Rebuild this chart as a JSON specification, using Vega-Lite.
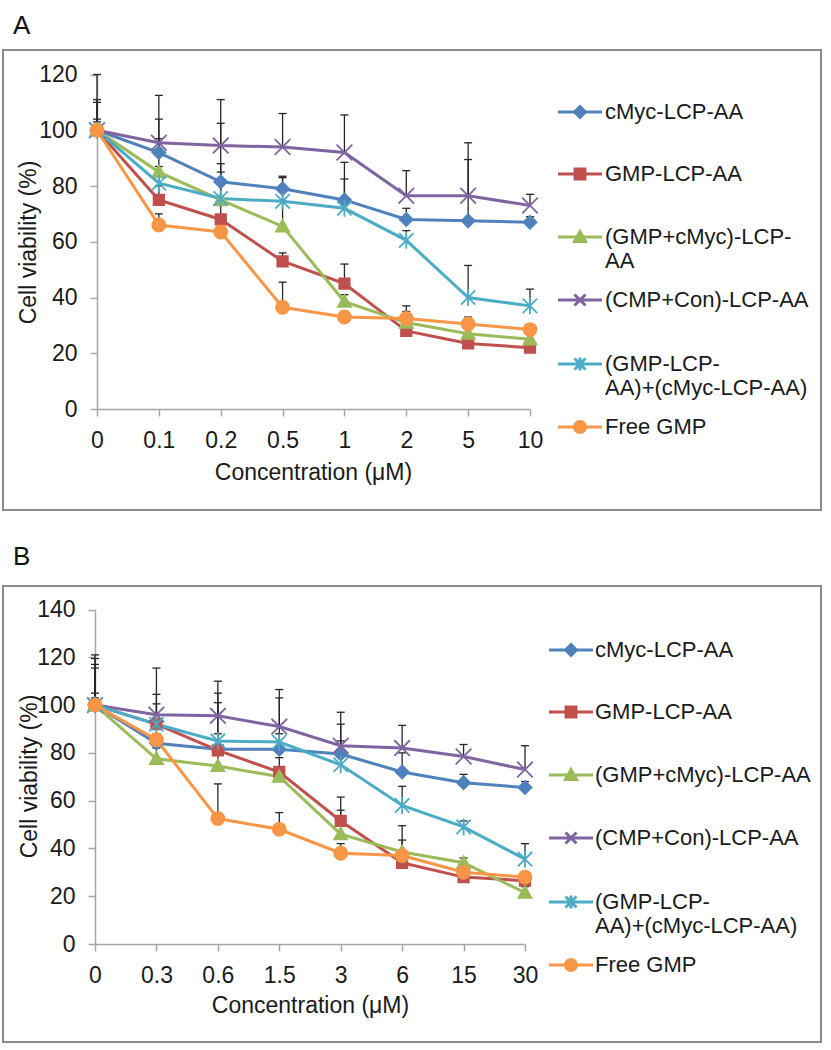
{
  "$schema": "https://vega.github.io/schema/vega-lite/v6.json",
  "padding": {"left": 2, "top": 12, "right": 5, "bottom": 5},
  "spacing": 32,
  "config": {
    "font": "Liberation Sans",
    "view": {"stroke": "#8a8a8a", "strokeWidth": 2},
    "title": {"anchor": "start", "fontSize": 26, "fontWeight": "normal", "dx": 10, "baseline": "alphabetic", "color": "#111111", "font": "Liberation Sans"},
    "axis": {"grid": false, "domainColor": "#a6a6a6", "domainWidth": 1.5, "tickColor": "#a6a6a6", "tickWidth": 1.5, "tickSize": 7, "labelFontSize": 23, "labelPadding": 13, "labelColor": "#1a1a1a", "titleFontSize": 23, "titleFontWeight": "normal", "titleColor": "#1a1a1a", "labelFont": "Liberation Sans", "titleFont": "Liberation Sans"}
  },
  "datasets": {
    "panelA": [
      {"series": "cMyc-LCP-AA", "conc": "0", "viability": 100, "upper": 110},
      {"series": "cMyc-LCP-AA", "conc": "0.1", "viability": 92, "upper": 104},
      {"series": "cMyc-LCP-AA", "conc": "0.2", "viability": 81.5, "upper": 102.5},
      {"series": "cMyc-LCP-AA", "conc": "0.5", "viability": 79, "upper": 83},
      {"series": "cMyc-LCP-AA", "conc": "1", "viability": 75, "upper": 88.5},
      {"series": "cMyc-LCP-AA", "conc": "2", "viability": 68, "upper": 72},
      {"series": "cMyc-LCP-AA", "conc": "5", "viability": 67.5, "upper": 89.5},
      {"series": "cMyc-LCP-AA", "conc": "10", "viability": 67, "upper": 69},
      {"series": "GMP-LCP-AA", "conc": "0", "viability": 100, "upper": 103},
      {"series": "GMP-LCP-AA", "conc": "0.1", "viability": 75, "upper": 80},
      {"series": "GMP-LCP-AA", "conc": "0.2", "viability": 68, "upper": 73},
      {"series": "GMP-LCP-AA", "conc": "0.5", "viability": 53, "upper": 56},
      {"series": "GMP-LCP-AA", "conc": "1", "viability": 45, "upper": 52},
      {"series": "GMP-LCP-AA", "conc": "2", "viability": 28, "upper": 30},
      {"series": "GMP-LCP-AA", "conc": "5", "viability": 23.5, "upper": 25},
      {"series": "GMP-LCP-AA", "conc": "10", "viability": 22, "upper": 23.5},
      {"series": "(GMP+cMyc)-LCP-AA", "conc": "0", "viability": 100, "upper": 104},
      {"series": "(GMP+cMyc)-LCP-AA", "conc": "0.1", "viability": 85, "upper": 97},
      {"series": "(GMP+cMyc)-LCP-AA", "conc": "0.2", "viability": 75, "upper": 88},
      {"series": "(GMP+cMyc)-LCP-AA", "conc": "0.5", "viability": 65.5, "upper": 83.5},
      {"series": "(GMP+cMyc)-LCP-AA", "conc": "1", "viability": 38.5, "upper": 41},
      {"series": "(GMP+cMyc)-LCP-AA", "conc": "2", "viability": 31, "upper": 35},
      {"series": "(GMP+cMyc)-LCP-AA", "conc": "5", "viability": 27, "upper": 29},
      {"series": "(GMP+cMyc)-LCP-AA", "conc": "10", "viability": 25, "upper": 26.5},
      {"series": "(CMP+Con)-LCP-AA", "conc": "0", "viability": 100, "upper": 120},
      {"series": "(CMP+Con)-LCP-AA", "conc": "0.1", "viability": 95.5, "upper": 112.5},
      {"series": "(CMP+Con)-LCP-AA", "conc": "0.2", "viability": 94.5, "upper": 111},
      {"series": "(CMP+Con)-LCP-AA", "conc": "0.5", "viability": 94, "upper": 106},
      {"series": "(CMP+Con)-LCP-AA", "conc": "1", "viability": 92, "upper": 105.5},
      {"series": "(CMP+Con)-LCP-AA", "conc": "2", "viability": 76.5, "upper": 85.5},
      {"series": "(CMP+Con)-LCP-AA", "conc": "5", "viability": 76.5, "upper": 95.5},
      {"series": "(CMP+Con)-LCP-AA", "conc": "10", "viability": 73, "upper": 77},
      {"series": "(GMP-LCP-AA)+(cMyc-LCP-AA)", "conc": "0", "viability": 100, "upper": 111},
      {"series": "(GMP-LCP-AA)+(cMyc-LCP-AA)", "conc": "0.1", "viability": 81, "upper": 87},
      {"series": "(GMP-LCP-AA)+(cMyc-LCP-AA)", "conc": "0.2", "viability": 75.5, "upper": 85},
      {"series": "(GMP-LCP-AA)+(cMyc-LCP-AA)", "conc": "0.5", "viability": 74.5, "upper": 78},
      {"series": "(GMP-LCP-AA)+(cMyc-LCP-AA)", "conc": "1", "viability": 72, "upper": 82.5},
      {"series": "(GMP-LCP-AA)+(cMyc-LCP-AA)", "conc": "2", "viability": 60.5, "upper": 64},
      {"series": "(GMP-LCP-AA)+(cMyc-LCP-AA)", "conc": "5", "viability": 40, "upper": 51.5},
      {"series": "(GMP-LCP-AA)+(cMyc-LCP-AA)", "conc": "10", "viability": 37, "upper": 43},
      {"series": "Free GMP", "conc": "0", "viability": 100, "upper": 102},
      {"series": "Free GMP", "conc": "0.1", "viability": 66, "upper": 70},
      {"series": "Free GMP", "conc": "0.2", "viability": 63.5, "upper": 67},
      {"series": "Free GMP", "conc": "0.5", "viability": 36.5, "upper": 45.5},
      {"series": "Free GMP", "conc": "1", "viability": 33, "upper": 35},
      {"series": "Free GMP", "conc": "2", "viability": 32.5, "upper": 37},
      {"series": "Free GMP", "conc": "5", "viability": 30.5, "upper": 33},
      {"series": "Free GMP", "conc": "10", "viability": 28.5, "upper": 30}
    ],
    "panelB": [
      {"series": "cMyc-LCP-AA", "conc": "0", "viability": 100, "upper": 121},
      {"series": "cMyc-LCP-AA", "conc": "0.3", "viability": 84, "upper": 92},
      {"series": "cMyc-LCP-AA", "conc": "0.6", "viability": 81.5, "upper": 88},
      {"series": "cMyc-LCP-AA", "conc": "1.5", "viability": 81.5, "upper": 88},
      {"series": "cMyc-LCP-AA", "conc": "3", "viability": 79.5, "upper": 92},
      {"series": "cMyc-LCP-AA", "conc": "6", "viability": 72, "upper": 80},
      {"series": "cMyc-LCP-AA", "conc": "15", "viability": 67.5, "upper": 71},
      {"series": "cMyc-LCP-AA", "conc": "30", "viability": 65.5, "upper": 68},
      {"series": "GMP-LCP-AA", "conc": "0", "viability": 100, "upper": 119.5},
      {"series": "GMP-LCP-AA", "conc": "0.3", "viability": 92, "upper": 104.5},
      {"series": "GMP-LCP-AA", "conc": "0.6", "viability": 81, "upper": 101},
      {"series": "GMP-LCP-AA", "conc": "1.5", "viability": 72, "upper": 78},
      {"series": "GMP-LCP-AA", "conc": "3", "viability": 51.5, "upper": 61.5},
      {"series": "GMP-LCP-AA", "conc": "6", "viability": 34, "upper": 37},
      {"series": "GMP-LCP-AA", "conc": "15", "viability": 28, "upper": 30},
      {"series": "GMP-LCP-AA", "conc": "30", "viability": 26.5, "upper": 29},
      {"series": "(GMP+cMyc)-LCP-AA", "conc": "0", "viability": 100, "upper": 117},
      {"series": "(GMP+cMyc)-LCP-AA", "conc": "0.3", "viability": 77.5, "upper": 82},
      {"series": "(GMP+cMyc)-LCP-AA", "conc": "0.6", "viability": 74.5, "upper": 79},
      {"series": "(GMP+cMyc)-LCP-AA", "conc": "1.5", "viability": 70, "upper": 74},
      {"series": "(GMP+cMyc)-LCP-AA", "conc": "3", "viability": 46, "upper": 56},
      {"series": "(GMP+cMyc)-LCP-AA", "conc": "6", "viability": 38.5, "upper": 49.5},
      {"series": "(GMP+cMyc)-LCP-AA", "conc": "15", "viability": 34, "upper": 36},
      {"series": "(GMP+cMyc)-LCP-AA", "conc": "30", "viability": 21.5, "upper": 24},
      {"series": "(CMP+Con)-LCP-AA", "conc": "0", "viability": 100, "upper": 115.5},
      {"series": "(CMP+Con)-LCP-AA", "conc": "0.3", "viability": 96, "upper": 115.5},
      {"series": "(CMP+Con)-LCP-AA", "conc": "0.6", "viability": 95.5, "upper": 110},
      {"series": "(CMP+Con)-LCP-AA", "conc": "1.5", "viability": 91, "upper": 106.5},
      {"series": "(CMP+Con)-LCP-AA", "conc": "3", "viability": 83, "upper": 97},
      {"series": "(CMP+Con)-LCP-AA", "conc": "6", "viability": 82, "upper": 91.5},
      {"series": "(CMP+Con)-LCP-AA", "conc": "15", "viability": 78.5, "upper": 83.5},
      {"series": "(CMP+Con)-LCP-AA", "conc": "30", "viability": 73, "upper": 83},
      {"series": "(GMP-LCP-AA)+(cMyc-LCP-AA)", "conc": "0", "viability": 100, "upper": 105},
      {"series": "(GMP-LCP-AA)+(cMyc-LCP-AA)", "conc": "0.3", "viability": 92, "upper": 100.5},
      {"series": "(GMP-LCP-AA)+(cMyc-LCP-AA)", "conc": "0.6", "viability": 85, "upper": 105},
      {"series": "(GMP-LCP-AA)+(cMyc-LCP-AA)", "conc": "1.5", "viability": 84.5, "upper": 103},
      {"series": "(GMP-LCP-AA)+(cMyc-LCP-AA)", "conc": "3", "viability": 75, "upper": 85},
      {"series": "(GMP-LCP-AA)+(cMyc-LCP-AA)", "conc": "6", "viability": 58, "upper": 66},
      {"series": "(GMP-LCP-AA)+(cMyc-LCP-AA)", "conc": "15", "viability": 49, "upper": 51.5},
      {"series": "(GMP-LCP-AA)+(cMyc-LCP-AA)", "conc": "30", "viability": 35.5, "upper": 42},
      {"series": "Free GMP", "conc": "0", "viability": 100, "upper": 103},
      {"series": "Free GMP", "conc": "0.3", "viability": 85.5, "upper": 88},
      {"series": "Free GMP", "conc": "0.6", "viability": 52.5, "upper": 67},
      {"series": "Free GMP", "conc": "1.5", "viability": 48, "upper": 55},
      {"series": "Free GMP", "conc": "3", "viability": 38, "upper": 42},
      {"series": "Free GMP", "conc": "6", "viability": 37, "upper": 43.5},
      {"series": "Free GMP", "conc": "15", "viability": 30, "upper": 32},
      {"series": "Free GMP", "conc": "30", "viability": 28, "upper": 30}
    ]
  },
  "vconcat": [
    {
      "data": {"name": "panelA"},
      "width": 818,
      "height": 460,
      "title": {"text": "A", "offset": 11},
      "encoding": {
        "x": {"field": "conc", "type": "ordinal", "scale": {"type": "point", "domain": ["0", "0.1", "0.2", "0.5", "1", "2", "5", "10"], "range": [94, 527], "padding": 0},
          "axis": {"title": "Concentration (μM)", "offset": -101, "labelAngle": 0, "titleX": 310, "titleY": 70, "titleBaseline": "alphabetic", "titleAlign": "center"}},
        "y": {"field": "viability", "type": "quantitative", "scale": {"domain": [0, 120], "range": [359, 24.5], "nice": false, "zero": false},
          "axis": {"title": "Cell viability (%)", "values": [0, 20, 40, 60, 80, 100, 120], "offset": -94, "titleX": -62, "titleY": 192, "titleBaseline": "alphabetic", "titleAlign": "center", "titleAngle": 270}}
      },
      "layer": [
        {"mark": {"type": "rule", "color": "#262626", "strokeWidth": 1.3}, "encoding": {"y2": {"field": "upper"}}},
        {"mark": {"type": "tick", "color": "#262626", "thickness": 1.3, "size": 8, "orient": "horizontal", "opacity": 1},
          "encoding": {"y": {"field": "upper", "type": "quantitative", "scale": {"domain": [0, 120], "range": [359, 24.5], "nice": false, "zero": false},
            "axis": {"title": "Cell viability (%)", "values": [0, 20, 40, 60, 80, 100, 120], "offset": -94, "titleX": -62, "titleY": 192, "titleBaseline": "alphabetic", "titleAlign": "center", "titleAngle": 270}}}},
        {"mark": {"type": "line", "strokeWidth": 3},
          "encoding": {"stroke": {"field": "series", "type": "nominal", "scale": {"domain": ["cMyc-LCP-AA", "GMP-LCP-AA", "(GMP+cMyc)-LCP-AA", "(CMP+Con)-LCP-AA", "(GMP-LCP-AA)+(cMyc-LCP-AA)", "Free GMP"], "range": ["#4F81BD", "#C0504D", "#9BBB59", "#8064A2", "#4BACC6", "#F79646"]}, "legend": null}}},
        {"mark": {"type": "point", "filled": true, "opacity": 1, "size": 170, "strokeWidth": 1.8},
          "encoding": {
            "fill": {"field": "series", "type": "nominal", "scale": {"domain": ["cMyc-LCP-AA", "GMP-LCP-AA", "(GMP+cMyc)-LCP-AA", "(CMP+Con)-LCP-AA", "(GMP-LCP-AA)+(cMyc-LCP-AA)", "Free GMP"], "range": ["#4F81BD", "#C0504D", "#9BBB59", "#8064A2", "#4BACC6", "#F79646"]}, "legend": null},
            "stroke": {"field": "series", "type": "nominal", "scale": {"domain": ["cMyc-LCP-AA", "GMP-LCP-AA", "(GMP+cMyc)-LCP-AA", "(CMP+Con)-LCP-AA", "(GMP-LCP-AA)+(cMyc-LCP-AA)", "Free GMP"], "range": ["#4F81BD", "#C0504D", "#9BBB59", "#8064A2", "#4BACC6", "#F79646"]}, "legend": null},
            "shape": {"field": "series", "type": "nominal", "scale": {"domain": ["cMyc-LCP-AA", "GMP-LCP-AA", "(GMP+cMyc)-LCP-AA", "(CMP+Con)-LCP-AA", "(GMP-LCP-AA)+(cMyc-LCP-AA)", "Free GMP"], "range": ["M0,-1L1,0L0,1L-1,0Z", "M-0.8,-0.8L0.8,-0.8L0.8,0.8L-0.8,0.8Z", "M0,-1L1,0.8L-1,0.8Z", "M-1.2,-1.2L1.2,1.2M-1.2,1.2L1.2,-1.2", "M-1.1,-1.1L1.1,1.1M-1.1,1.1L1.1,-1.1M0,-1.3L0,1.3", "circle"]}, "legend": null}
          }},
        {"transform": [{"filter": "false"}],
          "mark": {"type": "point", "filled": true, "opacity": 1, "size": 121, "strokeWidth": 3},
          "encoding": {
            "fill": {"field": "series", "type": "nominal", "scale": {"domain": ["cMyc-LCP-AA", "GMP-LCP-AA", "(GMP+cMyc)-LCP-AA", "(CMP+Con)-LCP-AA", "(GMP-LCP-AA)+(cMyc-LCP-AA)", "Free GMP"], "range": ["#4F81BD", "#C0504D", "#9BBB59", "#8064A2", "#4BACC6", "#F79646"]},
              "legend": {"orient": "none", "legendX": 566, "legendY": 51, "title": null, "labelFontSize": 22, "labelFont": "Liberation Sans", "labelColor": "#1a1a1a", "labelLimit": 400, "labelOffset": 14, "rowPadding": 16, "symbolSize": 121, "symbolStrokeWidth": 3, "labelExpr": "datum.label == '(GMP+cMyc)-LCP-AA' ? ['(GMP+cMyc)-LCP-', 'AA'] : datum.label == '(GMP-LCP-AA)+(cMyc-LCP-AA)' ? ['(GMP-LCP-', 'AA)+(cMyc-LCP-AA)'] : [datum.label, '']"}},
            "stroke": {"field": "series", "type": "nominal", "scale": {"domain": ["cMyc-LCP-AA", "GMP-LCP-AA", "(GMP+cMyc)-LCP-AA", "(CMP+Con)-LCP-AA", "(GMP-LCP-AA)+(cMyc-LCP-AA)", "Free GMP"], "range": ["#4F81BD", "#C0504D", "#9BBB59", "#8064A2", "#4BACC6", "#F79646"]},
              "legend": {"orient": "none", "legendX": 566, "legendY": 51, "title": null, "labelFontSize": 22, "labelFont": "Liberation Sans", "labelColor": "#1a1a1a", "labelLimit": 400, "labelOffset": 14, "rowPadding": 16, "symbolSize": 121, "symbolStrokeWidth": 3, "labelExpr": "datum.label == '(GMP+cMyc)-LCP-AA' ? ['(GMP+cMyc)-LCP-', 'AA'] : datum.label == '(GMP-LCP-AA)+(cMyc-LCP-AA)' ? ['(GMP-LCP-', 'AA)+(cMyc-LCP-AA)'] : [datum.label, '']"}},
            "shape": {"field": "series", "type": "nominal", "scale": {"domain": ["cMyc-LCP-AA", "GMP-LCP-AA", "(GMP+cMyc)-LCP-AA", "(CMP+Con)-LCP-AA", "(GMP-LCP-AA)+(cMyc-LCP-AA)", "Free GMP"], "range": ["M-4,0L4,0M0,-1L1,0L0,1L-1,0Z", "M-4,0L4,0M-0.9,-0.9L0.9,-0.9L0.9,0.9L-0.9,0.9Z", "M-4,0L4,0M0,-1L1,0.8L-1,0.8Z", "M-4,0L4,0M-1,-1L1,1M-1,1L1,-1", "M-4,0L4,0M-1,-1L1,1M-1,1L1,-1M0,-1.2L0,1.2", "M-4,0L4,0M1,0A1,1,0,1,1,-1,0A1,1,0,1,1,1,0Z"]},
              "legend": {"orient": "none", "legendX": 566, "legendY": 51, "title": null, "labelFontSize": 22, "labelFont": "Liberation Sans", "labelColor": "#1a1a1a", "labelLimit": 400, "labelOffset": 14, "rowPadding": 16, "symbolSize": 121, "symbolStrokeWidth": 3, "labelExpr": "datum.label == '(GMP+cMyc)-LCP-AA' ? ['(GMP+cMyc)-LCP-', 'AA'] : datum.label == '(GMP-LCP-AA)+(cMyc-LCP-AA)' ? ['(GMP-LCP-', 'AA)+(cMyc-LCP-AA)'] : [datum.label, '']"}}
          }}
      ],
      "resolve": {"scale": {"fill": "independent", "stroke": "independent", "shape": "independent"}}
    },
    {
      "data": {"name": "panelB"},
      "width": 818,
      "height": 456,
      "title": {"text": "B", "offset": 16},
      "encoding": {
        "x": {"field": "conc", "type": "ordinal", "scale": {"type": "point", "domain": ["0", "0.3", "0.6", "1.5", "3", "6", "15", "30"], "range": [92, 522], "padding": 0},
          "axis": {"title": "Concentration (μM)", "offset": -98, "labelAngle": 0, "titleX": 307, "titleY": 68, "titleBaseline": "alphabetic", "titleAlign": "center"}},
        "y": {"field": "viability", "type": "quantitative", "scale": {"domain": [0, 140], "range": [358, 23.5], "nice": false, "zero": false},
          "axis": {"title": "Cell viability (%)", "values": [0, 20, 40, 60, 80, 100, 120, 140], "offset": -92, "titleX": -59, "titleY": 190, "titleBaseline": "alphabetic", "titleAlign": "center", "titleAngle": 270}}
      },
      "layer": [
        {"mark": {"type": "rule", "color": "#262626", "strokeWidth": 1.3}, "encoding": {"y2": {"field": "upper"}}},
        {"mark": {"type": "tick", "color": "#262626", "thickness": 1.3, "size": 8, "orient": "horizontal", "opacity": 1},
          "encoding": {"y": {"field": "upper", "type": "quantitative", "scale": {"domain": [0, 140], "range": [358, 23.5], "nice": false, "zero": false},
            "axis": {"title": "Cell viability (%)", "values": [0, 20, 40, 60, 80, 100, 120, 140], "offset": -92, "titleX": -59, "titleY": 190, "titleBaseline": "alphabetic", "titleAlign": "center", "titleAngle": 270}}}},
        {"mark": {"type": "line", "strokeWidth": 3},
          "encoding": {"stroke": {"field": "series", "type": "nominal", "scale": {"domain": ["cMyc-LCP-AA", "GMP-LCP-AA", "(GMP+cMyc)-LCP-AA", "(CMP+Con)-LCP-AA", "(GMP-LCP-AA)+(cMyc-LCP-AA)", "Free GMP"], "range": ["#4F81BD", "#C0504D", "#9BBB59", "#8064A2", "#4BACC6", "#F79646"]}, "legend": null}}},
        {"mark": {"type": "point", "filled": true, "opacity": 1, "size": 170, "strokeWidth": 1.8},
          "encoding": {
            "fill": {"field": "series", "type": "nominal", "scale": {"domain": ["cMyc-LCP-AA", "GMP-LCP-AA", "(GMP+cMyc)-LCP-AA", "(CMP+Con)-LCP-AA", "(GMP-LCP-AA)+(cMyc-LCP-AA)", "Free GMP"], "range": ["#4F81BD", "#C0504D", "#9BBB59", "#8064A2", "#4BACC6", "#F79646"]}, "legend": null},
            "stroke": {"field": "series", "type": "nominal", "scale": {"domain": ["cMyc-LCP-AA", "GMP-LCP-AA", "(GMP+cMyc)-LCP-AA", "(CMP+Con)-LCP-AA", "(GMP-LCP-AA)+(cMyc-LCP-AA)", "Free GMP"], "range": ["#4F81BD", "#C0504D", "#9BBB59", "#8064A2", "#4BACC6", "#F79646"]}, "legend": null},
            "shape": {"field": "series", "type": "nominal", "scale": {"domain": ["cMyc-LCP-AA", "GMP-LCP-AA", "(GMP+cMyc)-LCP-AA", "(CMP+Con)-LCP-AA", "(GMP-LCP-AA)+(cMyc-LCP-AA)", "Free GMP"], "range": ["M0,-1L1,0L0,1L-1,0Z", "M-0.8,-0.8L0.8,-0.8L0.8,0.8L-0.8,0.8Z", "M0,-1L1,0.8L-1,0.8Z", "M-1.2,-1.2L1.2,1.2M-1.2,1.2L1.2,-1.2", "M-1.1,-1.1L1.1,1.1M-1.1,1.1L1.1,-1.1M0,-1.3L0,1.3", "circle"]}, "legend": null}
          }},
        {"transform": [{"filter": "false"}],
          "mark": {"type": "point", "filled": true, "opacity": 1, "size": 121, "strokeWidth": 3},
          "encoding": {
            "fill": {"field": "series", "type": "nominal", "scale": {"domain": ["cMyc-LCP-AA", "GMP-LCP-AA", "(GMP+cMyc)-LCP-AA", "(CMP+Con)-LCP-AA", "(GMP-LCP-AA)+(cMyc-LCP-AA)", "Free GMP"], "range": ["#4F81BD", "#C0504D", "#9BBB59", "#8064A2", "#4BACC6", "#F79646"]},
              "legend": {"orient": "none", "legendX": 557, "legendY": 53, "title": null, "labelFontSize": 22, "labelFont": "Liberation Sans", "labelColor": "#1a1a1a", "labelLimit": 400, "labelOffset": 13, "rowPadding": 16, "symbolSize": 121, "symbolStrokeWidth": 3, "labelExpr": "datum.label == '(GMP-LCP-AA)+(cMyc-LCP-AA)' ? ['(GMP-LCP-', 'AA)+(cMyc-LCP-AA)'] : [datum.label, '']"}},
            "stroke": {"field": "series", "type": "nominal", "scale": {"domain": ["cMyc-LCP-AA", "GMP-LCP-AA", "(GMP+cMyc)-LCP-AA", "(CMP+Con)-LCP-AA", "(GMP-LCP-AA)+(cMyc-LCP-AA)", "Free GMP"], "range": ["#4F81BD", "#C0504D", "#9BBB59", "#8064A2", "#4BACC6", "#F79646"]},
              "legend": {"orient": "none", "legendX": 557, "legendY": 53, "title": null, "labelFontSize": 22, "labelFont": "Liberation Sans", "labelColor": "#1a1a1a", "labelLimit": 400, "labelOffset": 13, "rowPadding": 16, "symbolSize": 121, "symbolStrokeWidth": 3, "labelExpr": "datum.label == '(GMP-LCP-AA)+(cMyc-LCP-AA)' ? ['(GMP-LCP-', 'AA)+(cMyc-LCP-AA)'] : [datum.label, '']"}},
            "shape": {"field": "series", "type": "nominal", "scale": {"domain": ["cMyc-LCP-AA", "GMP-LCP-AA", "(GMP+cMyc)-LCP-AA", "(CMP+Con)-LCP-AA", "(GMP-LCP-AA)+(cMyc-LCP-AA)", "Free GMP"], "range": ["M-4,0L4,0M0,-1L1,0L0,1L-1,0Z", "M-4,0L4,0M-0.9,-0.9L0.9,-0.9L0.9,0.9L-0.9,0.9Z", "M-4,0L4,0M0,-1L1,0.8L-1,0.8Z", "M-4,0L4,0M-1,-1L1,1M-1,1L1,-1", "M-4,0L4,0M-1,-1L1,1M-1,1L1,-1M0,-1.2L0,1.2", "M-4,0L4,0M1,0A1,1,0,1,1,-1,0A1,1,0,1,1,1,0Z"]},
              "legend": {"orient": "none", "legendX": 557, "legendY": 53, "title": null, "labelFontSize": 22, "labelFont": "Liberation Sans", "labelColor": "#1a1a1a", "labelLimit": 400, "labelOffset": 13, "rowPadding": 16, "symbolSize": 121, "symbolStrokeWidth": 3, "labelExpr": "datum.label == '(GMP-LCP-AA)+(cMyc-LCP-AA)' ? ['(GMP-LCP-', 'AA)+(cMyc-LCP-AA)'] : [datum.label, '']"}}
          }}
      ],
      "resolve": {"scale": {"fill": "independent", "stroke": "independent", "shape": "independent"}}
    }
  ]
}
